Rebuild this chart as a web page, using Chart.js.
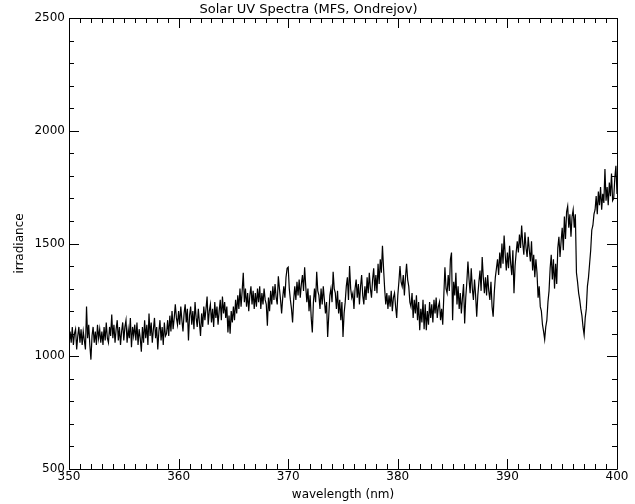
<!DOCTYPE html>
<html>
<head>
<meta charset="utf-8">
<title>Solar UV Spectra</title>
<script src="https://cdn.jsdelivr.net/npm/chart.js@4.4.1/dist/chart.umd.min.js"></script>
<style>
  html, body { margin: 0; padding: 0; background: #fff; }
  #myChart { display: block; }
</style>
</head>
<body>
<canvas id="myChart" width="635" height="504"></canvas>
<script>
// wavelength grid (nm)
var startWavelength = 350;
var stepWavelength = 0.1;
var xTicks = [350, 360, 370, 380, 390, 400];
var yTicks = [500, 1000, 1500, 2000, 2500];

// irradiance, one row per nm (350.0 ... 399.9), then 400.0
var irradiance = [
    1050, 1110, 1060, 1130, 1050, 1100, 1120, 1030, 1090, 1130, // 350
    1060, 1120, 1050, 1110, 1070, 1030, 1220, 1080, 1140, 1050, // 351
    985, 1090, 1130, 1060, 1110, 1050, 1140, 1080, 1120, 1060,  // 352
    1110, 1050, 1130, 1070, 1150, 1080, 1060, 1130, 1090, 1185, // 353
    1080, 1140, 1060, 1120, 1160, 1070, 1130, 1050, 1110, 1150, // 354
    1070, 1130, 1160, 1060, 1120, 1080, 1170, 1040, 1130, 1090, // 355
    1140, 1070, 1150, 1050, 1120, 1080, 1020, 1130, 1060, 1160, // 356
    1080, 1140, 1050, 1190, 1090, 1150, 1060, 1120, 1170, 1080, // 357
    1130, 1030, 1110, 1160, 1070, 1130, 1050, 1150, 1090, 1100, // 358
    1160, 1090, 1180, 1110, 1200, 1120, 1170, 1230, 1170, 1140, // 359
    1200, 1140, 1220, 1160, 1110, 1190, 1230, 1150, 1210, 1070, // 360
    1180, 1220, 1140, 1200, 1120, 1240, 1170, 1130, 1210, 1150, // 361
    1090, 1190, 1130, 1220, 1160, 1210, 1265, 1140, 1200, 1230, // 362
    1150, 1210, 1130, 1240, 1170, 1220, 1140, 1200, 1250, 1160, // 363
    1265, 1190, 1240, 1170, 1220, 1105, 1180, 1100, 1200, 1150, // 364
    1220, 1160, 1250, 1190, 1270, 1210, 1300, 1220, 1290, 1370, // 365
    1240, 1300, 1220, 1280, 1200, 1270, 1310, 1230, 1290, 1210, // 366
    1280, 1220, 1300, 1240, 1310, 1210, 1280, 1230, 1300, 1250, // 367
    1230, 1135, 1260, 1200, 1290, 1230, 1310, 1250, 1320, 1260, // 368
    1230, 1355, 1300, 1250, 1190, 1260, 1310, 1260, 1350, 1390, // 369
    1395, 1300, 1250, 1210, 1150, 1250, 1310, 1250, 1330, 1270, // 370
    1340, 1260, 1320, 1360, 1290, 1395, 1310, 1240, 1300, 1200, // 371
    1270, 1170, 1105, 1240, 1300, 1240, 1375, 1290, 1270, 1210, // 372
    1300, 1230, 1310, 1250, 1190, 1240, 1085, 1180, 1270, 1300, // 373
    1240, 1375, 1300, 1280, 1210, 1290, 1190, 1250, 1160, 1240, // 374
    1085, 1190, 1240, 1310, 1350, 1250, 1400, 1300, 1260, 1280, // 375
    1210, 1300, 1340, 1260, 1320, 1230, 1310, 1360, 1270, 1230, // 376
    1310, 1250, 1350, 1280, 1370, 1300, 1260, 1340, 1390, 1290, // 377
    1360, 1280, 1410, 1320, 1430, 1370, 1490, 1390, 1300, 1230, // 378
    1280, 1210, 1270, 1220, 1290, 1200, 1260, 1280, 1220, 1170, // 379
    1270, 1330, 1400, 1330, 1310, 1360, 1270, 1350, 1410, 1340, // 380
    1310, 1240, 1220, 1280, 1170, 1250, 1190, 1270, 1160, 1240, // 381
    1115, 1210, 1150, 1250, 1120, 1230, 1115, 1200, 1140, 1240, // 382
    1170, 1230, 1150, 1250, 1190, 1260, 1170, 1220, 1240, 1160, // 383
    1210, 1140, 1270, 1395, 1300, 1280, 1360, 1290, 1430, 1460, // 384
    1160, 1330, 1270, 1370, 1230, 1310, 1210, 1280, 1190, 1260, // 385
    1320, 1145, 1260, 1330, 1420, 1340, 1280, 1390, 1300, 1250, // 386
    1340, 1270, 1175, 1270, 1330, 1380, 1290, 1440, 1350, 1280, // 387
    1350, 1270, 1360, 1290, 1250, 1330, 1220, 1175, 1280, 1350, // 388
    1390, 1430, 1360, 1460, 1390, 1500, 1410, 1535, 1450, 1380, // 389
    1460, 1390, 1490, 1410, 1360, 1470, 1280, 1400, 1460, 1510, // 390
    1460, 1540, 1480, 1580, 1500, 1450, 1550, 1480, 1440, 1530, // 391
    1470, 1420, 1510, 1380, 1450, 1350, 1430, 1370, 1260, 1310, // 392
    1220, 1200, 1140, 1110, 1075, 1130, 1160, 1240, 1290, 1390, // 393
    1450, 1340, 1430, 1300, 1410, 1320, 1480, 1530, 1440, 1510, // 394
    1570, 1470, 1620, 1520, 1640, 1665, 1570, 1630, 1530, 1620, // 395
    1650, 1570, 1630, 1370, 1330, 1280, 1250, 1210, 1180, 1130, // 396
    1095, 1170, 1210, 1310, 1350, 1410, 1470, 1560, 1580, 1630, // 397
    1650, 1710, 1630, 1730, 1670, 1750, 1650, 1720, 1680, 1830, // 398
    1690, 1750, 1670, 1770, 1710, 1810, 1690, 1700, 1790, 1845, // 399
    1720                                                        // 400
];

var points = [];
for (let i = 0; i < irradiance.length; i++) {
    points.push({ x: Math.round((startWavelength + i * stepWavelength) * 10) / 10, y: irradiance[i] });
}

// frame with inward ticks, like the IDL plot
var framePlugin = {
    id: 'frame',
    afterDatasetsDraw(chart) {
        const ctx = chart.ctx;
        const a = chart.chartArea;
        const xs = chart.scales.x;
        const ys = chart.scales.y;
        ctx.save();
        ctx.strokeStyle = '#000';
        ctx.lineWidth = 1;
        ctx.beginPath();
        ctx.rect(Math.round(a.left) + 0.5, Math.round(a.top) + 0.5,
            Math.round(a.right - a.left), Math.round(a.bottom - a.top));
        for (let v = 350; v <= 400; v++) {
            const px = Math.round(xs.getPixelForValue(v)) + 0.5;
            const len = (v % 10 === 0) ? 10 : 5;
            ctx.moveTo(px, a.bottom);
            ctx.lineTo(px, a.bottom - len);
            ctx.moveTo(px, a.top);
            ctx.lineTo(px, a.top + len);
        }
        for (let v = 500; v <= 2500; v += 100) {
            const py = Math.round(ys.getPixelForValue(v)) + 0.5;
            const len = (v % 500 === 0) ? 10 : 5;
            ctx.moveTo(a.left, py);
            ctx.lineTo(a.left + len, py);
            ctx.moveTo(a.right, py);
            ctx.lineTo(a.right - len, py);
        }
        ctx.stroke();
        ctx.restore();
    }
};

var ctx = document.getElementById('myChart');
var chart = new Chart(ctx, {
    type: 'line',
    data: {
        datasets: [{
            label: 'irradiance',
            data: points,
            borderColor: '#000',
            borderWidth: 1.2,
            pointRadius: 0,
            tension: 0,
            fill: false
        }]
    },
    options: {
        responsive: false,
        animation: false,
        devicePixelRatio: 1,
        layout: { padding: { left: 0, right: 18, top: 0, bottom: 0 } },
        scales: {
            x: {
                type: 'linear',
                min: 350,
                max: 400,
                grid: { display: false, drawTicks: false },
                border: { display: false },
                afterBuildTicks: (s) => { s.ticks = xTicks.map(v => ({ value: v })); },
                afterFit: (s) => { s.height = 35; },
                ticks: {
                    color: '#000',
                    padding: 1,
                    maxRotation: 0,
                    callback: (v) => String(v),
                    font: { family: 'DejaVu Sans', size: 12 }
                },
                title: {
                    display: true,
                    text: 'wavelength (nm)',
                    color: '#000',
                    padding: { top: 0, bottom: 2 },
                    font: { family: 'DejaVu Sans', size: 12 }
                }
            },
            y: {
                min: 500,
                max: 2500,
                grid: { display: false, drawTicks: false },
                border: { display: false },
                afterBuildTicks: (s) => { s.ticks = yTicks.map(v => ({ value: v })); },
                afterFit: (s) => { s.width = 69; },
                ticks: {
                    color: '#000',
                    padding: 4,
                    callback: (v) => String(v),
                    font: { family: 'DejaVu Sans', size: 12 }
                },
                title: {
                    display: true,
                    text: 'irradiance',
                    color: '#000',
                    padding: { top: 13, bottom: 0 },
                    font: { family: 'DejaVu Sans', size: 12 }
                }
            }
        },
        plugins: {
            legend: { display: false },
            tooltip: { enabled: false },
            title: {
                display: true,
                text: 'Solar UV Spectra (MFS, Ondrejov)',
                color: '#000',
                padding: { top: 2, bottom: 0.4 },
                font: { family: 'DejaVu Sans', size: 13, weight: 'normal' }
            }
        }
    },
    plugins: [framePlugin]
});
</script>
</body>
</html>
